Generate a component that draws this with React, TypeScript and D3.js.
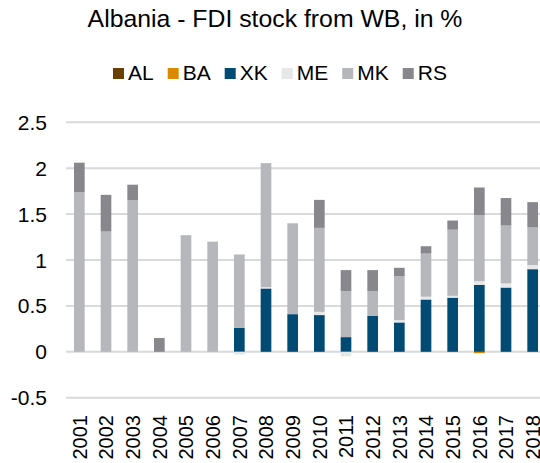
import React, { useEffect, useRef } from "react";
import * as d3 from "d3";

const years = ["2001","2002","2003","2004","2005","2006","2007","2008","2009","2010","2011","2012","2013","2014","2015","2016","2017","2018"];
const seriesNames = ["AL", "BA", "XK", "ME", "MK", "RS"];
const AL = [0,0,0,0,0,0,0,0,0,0,0,0,0,0,0,0,0,0];
const BA = [0,0,0,0,0,0,0,0,0,0,0,0,0,0,0,-0.015,0,0];
const XK = [0,0,0,0,0,0,0.26,0.69,0.41,0.40,0.16,0.39,0.32,0.57,0.59,0.73,0.70,0.90];
const ME = [0,0,0,0,0,0,-0.03,0.015,0,0.035,-0.05,0,0.025,0.03,0.02,0.04,0.045,0.045];
const MK = [1.74,1.31,1.65,0,1.27,1.20,0.80,1.35,0.99,0.915,0.50,0.27,0.48,0.47,0.72,0.72,0.63,0.41];
const RS = [0.32,0.40,0.17,0.15,0,0,0,0,0,0.305,0.23,0.23,0.09,0.08,0.10,0.30,0.30,0.275];
const yTicks = [-0.5, 0, 0.5, 1, 1.5, 2, 2.5];
const colors = ["#6b3f00", "#d98a00", "#004a73", "#e6e7e9", "#b6b7ba", "#87878c"];

const W = 540, H = 463;
const FONT = "'Liberation Sans', Arial, sans-serif";

export default function App() {
  const ref = useRef<SVGSVGElement>(null);
  useEffect(() => {
    const svg = d3.select(ref.current);
    svg.selectAll("*").remove();
    const values = [AL, BA, XK, ME, MK, RS];
    const table = years.map((yr, i) => {
      const row: any = { year: yr };
      seriesNames.forEach((s, k) => (row[s] = values[k][i]));
      return row;
    });
    const stacked = d3.stack().keys(seriesNames).offset(d3.stackOffsetDiverging)(table);

    const x = d3.scaleBand().domain(years).range([66, 546]).paddingInner(0.6).paddingOuter(0.3);
    const y = d3.scaleLinear().domain([-0.5, 2.5]).range([397.7, 122.3]);

    // title
    svg.append("text").attr("x", 275).attr("y", 27).attr("text-anchor", "middle")
      .attr("font-family", FONT).attr("font-size", 24.8).attr("fill", "#000")
      .text("Albania - FDI stock from WB, in %");

    // grid
    svg.append("g").selectAll("line").data(yTicks).join("line")
      .attr("x1", 66).attr("x2", W).attr("y1", d => y(d)).attr("y2", d => y(d))
      .attr("stroke", "#d9d9d9").attr("stroke-width", 2);

    // y labels
    svg.append("g").selectAll("text").data(yTicks).join("text")
      .attr("x", 47).attr("y", d => y(d)).attr("dy", "0.36em").attr("text-anchor", "end")
      .attr("font-family", FONT).attr("font-size", 21).attr("fill", "#000")
      .text(d => String(d));

    // bars
    svg.append("g").selectAll("g").data(stacked).join("g")
      .attr("fill", (d, i) => colors[i])
      .selectAll("rect").data(d => d).join("rect")
      .attr("x", (d: any) => x(d.data.year)!)
      .attr("width", x.bandwidth())
      .attr("y", (d: any) => y(Math.max(d[0], d[1])))
      .attr("height", (d: any) => Math.abs(y(d[0]) - y(d[1])));

    // x labels
    svg.append("g").selectAll("text").data(years).join("text")
      .attr("transform", d => `translate(${x(d)! + x.bandwidth() / 2},415) rotate(-90)`)
      .attr("dy", "0.36em").attr("text-anchor", "end")
      .attr("font-family", FONT).attr("font-size", 20).attr("fill", "#000")
      .text(d => d);

    // legend
    const lg = svg.append("g");
    let cx = 113;
    seriesNames.forEach((s, i) => {
      lg.append("rect").attr("x", cx).attr("y", 68).attr("width", 11).attr("height", 11).attr("fill", colors[i]);
      const t = lg.append("text").attr("x", cx + 15).attr("y", 79.5)
        .attr("font-family", FONT).attr("font-size", 21).attr("fill", "#000").text(s);
      const w = (t.node() as SVGTextElement).getComputedTextLength();
      cx += 15 + w + 14;
    });
  }, []);
  return (
    <svg ref={ref} width={W} height={H} style={{ position: "absolute", left: 0, top: 0, background: "#fff" }} />
  );
}
